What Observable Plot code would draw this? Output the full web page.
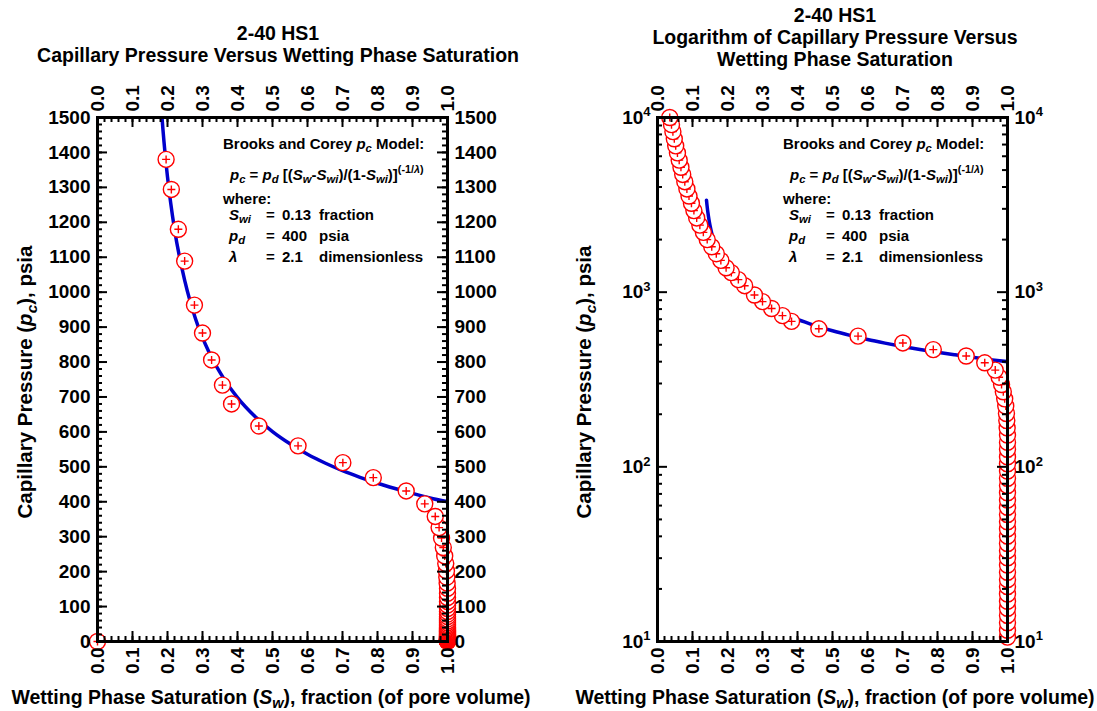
<!DOCTYPE html>
<html><head><meta charset="utf-8">
<script src="https://cdn.jsdelivr.net/npm/d3@7"></script>
<script src="https://cdn.jsdelivr.net/npm/@observablehq/plot@0.6"></script>
<style>
html,body{margin:0;padding:0;background:#fff;}
body{font-family:"Liberation Sans",Arial,sans-serif;font-weight:bold;color:#000;}
#page{position:relative;width:1097px;height:711px;overflow:hidden;background:#fff;}
.abs{position:absolute;white-space:nowrap;}
.title{font-size:19.5px;line-height:22px;text-align:center;transform:translateX(-50%);}
.ann{font-size:15px;line-height:18px;}
.lab{font-size:19.5px;line-height:22px;}
.ylab{font-size:20.5px;line-height:22px;}
sub{font-size:0.75em;vertical-align:-0.3em;line-height:0;font-style:italic;}
sup{font-size:0.72em;vertical-align:0.65em;line-height:0;}
.plot{position:absolute;top:0;}
</style>
</head><body>
<div id="page"></div>
<script>
// ---------- data ----------
const xTickValues = [0.0, 0.1, 0.2, 0.3, 0.4, 0.5, 0.6, 0.7, 0.8, 0.9, 1.0];
const linearTickValues = [0, 100, 200, 300, 400, 500, 600, 700, 800, 900, 1000, 1100, 1200, 1300, 1400, 1500];
const logTickValues = [10, 100, 1000, 10000];

// measured points (red circles), listed from highest pc to lowest
const pcMeasured = [10000, 9100, 8300, 7550, 6880, 6270, 5700, 5190, 4720, 4290,
  3900, 3550, 3230, 2930, 2660, 2420, 2200, 2000, 1820, 1660,
  1520, 1380, 1294, 1180, 1089, 963, 883, 806, 734, 680,
  617, 560, 512, 469, 431, 394, 358, 326, 296, 269,
  245, 223, 202, 184, 167, 152, 138, 126, 114, 104,
  94.5, 85.9, 78.1, 71.0, 64.5, 58.7, 53.3, 48.5, 44.1, 40.1,
  36.4, 33.1, 30.1, 27.4, 24.9, 22.6, 20.6, 18.7, 17.0, 15.5,
  14.1, 12.8, 11.6, 10.6, 9.6, 8.7, 7.9, 7.2, 6.5, 5.9,
  5.4, 4.9, 4.5, 4.1, 3.7, 3.4, 3.1, 2.8, 2.5, 2.3,
  2.1, 1.9, 1.7, 1.6, 1.4, 1.3, 1.2, 1.1, 1.0, 0];
const swMeasured = [0.035, 0.040, 0.044, 0.048, 0.052, 0.057, 0.062, 0.067, 0.072, 0.078,
  0.084, 0.090, 0.097, 0.104, 0.112, 0.121, 0.131, 0.142, 0.155, 0.168,
  0.181, 0.196, 0.211, 0.231, 0.249, 0.277, 0.300, 0.326, 0.357, 0.383,
  0.461, 0.573, 0.701, 0.788, 0.882, 0.935, 0.965, 0.976, 0.983, 0.988,
  0.992, 0.995, 0.997, 0.998, 0.999, 1.0, 1.0, 1.0, 1.0, 1.0,
  1.0, 1.0, 1.0, 1.0, 1.0, 1.0, 1.0, 1.0, 1.0, 1.0,
  1.0, 1.0, 1.0, 1.0, 1.0, 1.0, 1.0, 1.0, 1.0, 1.0,
  1.0, 1.0, 1.0, 1.0, 1.0, 1.0, 1.0, 1.0, 1.0, 1.0,
  1.0, 1.0, 1.0, 1.0, 1.0, 1.0, 1.0, 1.0, 1.0, 1.0,
  1.0, 1.0, 1.0, 1.0, 1.0, 1.0, 1.0, 1.0, 1.0, 0.0];

// Brooks-Corey model curve (blue line), as read
const swModel = [0.140, 0.1415, 0.143, 0.145, 0.147, 0.150, 0.155, 0.160, 0.170, 0.180,
  0.190, 0.200, 0.220, 0.250, 0.280, 0.320, 0.360, 0.400, 0.450, 0.500,
  0.550, 0.600, 0.650, 0.700, 0.750, 0.800, 0.850, 0.900, 0.950, 1.000];
const pcModel = [3360, 3140, 2960, 2770, 2605, 2410, 2170, 1990, 1730, 1560,
  1430, 1330, 1180, 1030, 924, 825, 754, 698, 644, 601,
  566, 536, 511, 489, 470, 453, 438, 424, 411, 400];

// ---------- build ----------
const measured = swMeasured.map((sw, i) => ({sw, pc: pcMeasured[i]})).reverse(); // drawn low pc first
const model = swModel.map((sw, i) => ({sw, pc: pcModel[i]}));

const circlePlus = {
  draw(ctx, size) {
    const r = Math.sqrt(size / Math.PI);
    ctx.moveTo(r, 0);
    ctx.arc(0, 0, r, 0, 2 * Math.PI);
    const p = r * 0.5;
    ctx.moveTo(-p, 0); ctx.lineTo(p, 0);
    ctx.moveTo(0, -p); ctx.lineTo(0, p);
  }
};

const H = 711, MT = 117, MB = 70;
const innerH = H - MT - MB;
const FONT = "'Liberation Sans', Arial, sans-serif";
const xMinor = d3.range(0, 1.0001, 0.02);

function makePanel({width, ml, mr, yScale, yMajor, yMinor, yFormat, points, lineClip}) {
  const innerW = width - ml - mr;
  const tk = {stroke: "black", strokeWidth: 2};
  const svg = Plot.plot({
    width, height: H,
    marginTop: MT, marginBottom: MB, marginLeft: ml, marginRight: mr,
    style: {fontFamily: FONT, fontSize: "19px", fontWeight: "bold", color: "black", background: "transparent", overflow: "visible"},
    x: {domain: [0, 1]},
    y: yScale,
    marks: [
      Plot.line(model, {x: "sw", y: "pc", stroke: "#0000cc", strokeWidth: 3.5, clip: lineClip, curve: "monotone-x"}),
      Plot.dot(points, {x: "sw", y: "pc", r: 8, symbol: circlePlus, stroke: "#ff0000", fill: "white", strokeWidth: 1.4}),
      // inward ticks
      Plot.tickX(xMinor, {x: d => d, insetTop: innerH - 5, ...tk}),
      Plot.tickX(xTickValues, {x: d => d, insetTop: innerH - 10, ...tk}),
      Plot.tickX(xMinor, {x: d => d, insetBottom: innerH - 5, ...tk}),
      Plot.tickX(xTickValues, {x: d => d, insetBottom: innerH - 10, ...tk}),
      Plot.tickY(yMinor, {y: d => d, insetRight: innerW - 5, ...tk}),
      Plot.tickY(yMajor, {y: d => d, insetRight: innerW - 10, ...tk}),
      Plot.tickY(yMinor, {y: d => d, insetLeft: innerW - 5, ...tk}),
      Plot.tickY(yMajor, {y: d => d, insetLeft: innerW - 10, ...tk}),
      Plot.frame({stroke: "black", strokeWidth: 3}),
      Plot.axisX({anchor: "bottom", ticks: xTickValues, tickSize: 0, tickPadding: 6, tickRotate: -90, tickFormat: d3.format(".1f"), label: null}),
      Plot.axisX({anchor: "top", ticks: xTickValues, tickSize: 0, tickPadding: 6, tickRotate: -90, tickFormat: d3.format(".1f"), label: null}),
      Plot.axisY({anchor: "left", ticks: yMajor, tickSize: 0, tickPadding: 7, tickFormat: yFormat, label: null}),
      Plot.axisY({anchor: "right", ticks: yMajor, tickSize: 0, tickPadding: 7, tickFormat: yFormat, label: null})
    ]
  });
  // superscript exponents for log labels
  d3.select(svg).selectAll('g[aria-label="y-axis tick label"] text').each(function () {
    const t = this.textContent;
    if (t.includes("^")) {
      const [b, e] = t.split("^");
      const s = d3.select(this);
      s.text(b);
      s.append("tspan").attr("dy", "-0.55em").attr("font-size", "13px").text(e);
    }
  });
  return svg;
}

const page = document.getElementById("page");

const leftW = 552;
const left = makePanel({
  width: leftW, ml: 97, mr: leftW - 447,
  yScale: {domain: [0, 1500]},
  yMajor: linearTickValues,
  yMinor: d3.range(0, 1501, 20),
  yFormat: d => String(d),
  points: measured.filter(d => d.pc <= 1500),
  lineClip: true
});
left.classList.add("plot");
left.style.left = "0px";
page.appendChild(left);

const rightX = 552, rightW = 1097 - 552;
const logMinor = [];
for (const dec of [10, 100, 1000]) for (let k = 2; k <= 9; k++) logMinor.push(dec * k);
const right = makePanel({
  width: rightW, ml: 657 - rightX, mr: rightW - (1007 - rightX),
  yScale: {type: "log", domain: [10, 10000]},
  yMajor: logTickValues,
  yMinor: logMinor,
  yFormat: d => "10^" + Math.round(Math.log10(d)),
  points: measured.filter(d => d.pc >= 10),
  lineClip: true
});
right.classList.add("plot");
right.style.left = rightX + "px";
page.appendChild(right);

// ---------- text overlays ----------
function add(html, cls, style) {
  const d = document.createElement("div");
  d.className = "abs " + cls;
  d.setAttribute("style", style);
  d.innerHTML = html;
  page.appendChild(d);
  return d;
}
add("2-40 HS1<br>Capillary Pressure Versus Wetting Phase Saturation", "title", "left:278px;top:22px;");
add("2-40 HS1<br>Logarithm of Capillary Pressure Versus<br>Wetting Phase Saturation", "title", "left:835px;top:4px;");

const yLab = "Capillary Pressure (<i>p</i><sub>c</sub>), psia";
const xLab = "Wetting Phase Saturation (<i>S</i><sub>w</sub>), fraction (of pore volume)";
for (const [cx, cy] of [[25, 382], [584, 382]]) {
  add(yLab, "ylab", `left:${cx}px;top:${cy}px;transform:translate(-50%,-50%) rotate(-90deg);`);
}
for (const cx of [271, 835]) {
  add(xLab, "lab", `left:${cx}px;top:697px;transform:translate(-50%,-50%);`);
}

function annotation(dx) {
  add("Brooks and Corey <i>p</i><sub>c</sub> Model:", "ann", `left:${223 + dx}px;top:135px;`);
  add("<i>p</i><sub>c</sub> = <i>p</i><sub>d</sub> [(<i>S</i><sub>w</sub>-<i>S</i><sub>wi</sub>)/(1-<i>S</i><sub>wi</sub>)]<sup>(-1/<i>λ</i>)</sup>", "ann", `left:${230 + dx}px;top:166px;`);
  add("where:", "ann", `left:${223 + dx}px;top:190px;`);
  const rows = [
    ["<i>S</i><sub>wi</sub>", "0.13", "fraction", 206],
    ["<i>p</i><sub>d</sub>", "400", "psia", 227],
    ["<i>λ</i>", "2.1", "dimensionless", 248]
  ];
  for (const [sym, val, unit, top] of rows) {
    add(sym, "ann", `left:${229 + dx}px;top:${top}px;`);
    add("=", "ann", `left:${266 + dx}px;top:${top}px;`);
    add(val, "ann", `left:${282 + dx}px;top:${top}px;`);
    add(unit, "ann", `left:${319 + dx}px;top:${top}px;`);
  }
}
annotation(0);
annotation(560);
</script>
</body></html>
